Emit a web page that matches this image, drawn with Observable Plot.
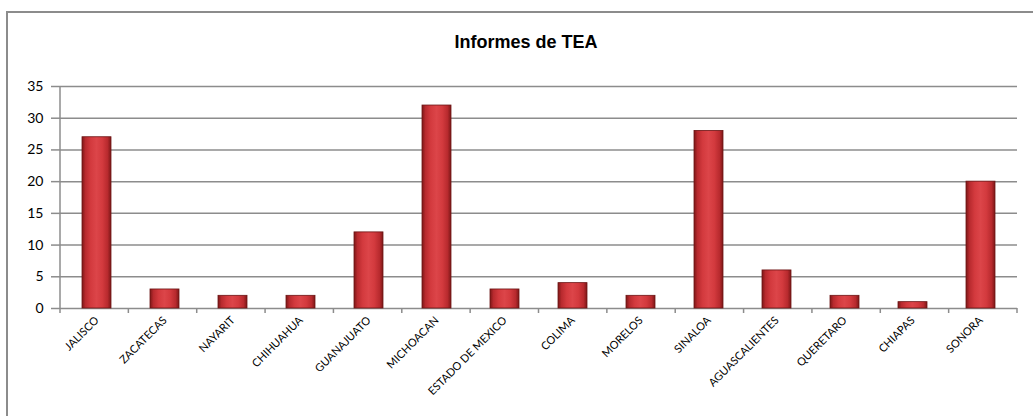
<!DOCTYPE html>
<html><head><meta charset="utf-8">
<script src="https://cdn.jsdelivr.net/npm/d3@7"></script>
<script src="https://cdn.jsdelivr.net/npm/@observablehq/plot@0.6"></script>
<style>
body{margin:0;background:#fff}
#wrap{position:relative;width:1033px;height:416px;overflow:hidden;background:#fff}
#ftop{position:absolute;left:6px;top:11px;width:1040px;height:0;border-top:2px solid #8c8c8c}
#fleft{position:absolute;left:6px;top:11px;width:0;height:420px;border-left:2px solid #8c8c8c}
#title{position:absolute;left:0;width:1052px;top:32px;text-align:center;font:bold 18px "Liberation Sans",Arial,sans-serif;color:#000}
#chart{position:absolute;left:0;top:0}
#chart svg [aria-label="y-axis tick"] path{stroke:#8c8c8c;stroke-width:1.5}
</style>
</head><body>
<div id="wrap"><div id="chart"></div><div id="ftop"></div><div id="fleft"></div><div id="title">Informes de TEA</div></div>
<script>
const states = ["JALISCO","ZACATECAS","NAYARIT","CHIHUAHUA","GUANAJUATO","MICHOACAN","ESTADO DE MEXICO","COLIMA","MORELOS","SINALOA","AGUASCALIENTES","QUERETARO","CHIAPAS","SONORA"];
const informes = [27,3,2,2,12,32,3,4,2,28,6,2,1,20];
const yTicks = [0,5,10,15,20,25,30,35];

const data = states.map((s,i)=>({state:s, value:informes[i]}));

function frameLines(index, scales, values, dims) {
  const g = d3.create("svg:g");
  const {width, height, marginLeft, marginRight, marginTop, marginBottom} = dims;
  const x0 = marginLeft, x1 = width - marginRight, yb = height - marginBottom;
  const n = states.length, step = (x1 - x0) / n;
  g.append("line").attr("x1", x0).attr("x2", x0).attr("y1", marginTop).attr("y2", yb)
    .attr("stroke", "#8c8c8c").attr("stroke-width", 1.5);
  for (let i = 0; i <= n; i++) {
    const x = x0 + i * step;
    g.append("line").attr("x1", x).attr("x2", x).attr("y1", yb).attr("y2", yb + 5)
      .attr("stroke", "#8c8c8c").attr("stroke-width", 1.5);
  }
  return g.node();
}

const chart = Plot.plot({
  width: 1033,
  height: 416,
  marginLeft: 60,
  marginRight: 16,
  marginTop: 86,
  marginBottom: 108,
  style: {background: "transparent", color: "#000"},
  x: {domain: states, paddingInner: 0.58, paddingOuter: 0.29, label: null},
  y: {domain: [0, 35], label: null},
  marks: [
    Plot.ruleY(yTicks, {stroke: "#8c8c8c", strokeWidth: 1.5}),
    Plot.barY(data, {x: "state", y: "value", fill: "url(#barGrad)", stroke: "#6b1414", strokeWidth: 0.8}),
    frameLines,
    Plot.axisY({ticks: yTicks, tickSize: 9, tickPadding: 8, fontSize: 14, fontFamily: "Lato, 'Open Sans', sans-serif", label: null}),
    Plot.axisX({tickSize: 0, tickPadding: 10, tickRotate: -45, fontSize: 11, fontFamily: "Lato, 'Open Sans', sans-serif", label: null})
  ]
});

const svg = d3.select(chart);
const defs = svg.insert("defs", ":first-child");
const grad = defs.append("linearGradient").attr("id", "barGrad").attr("x1", "0").attr("x2", "1").attr("y1", "0").attr("y2", "0");
[["0", "#7d1717"], ["0.12", "#b82a2e"], ["0.3", "#d33a3e"], ["0.5", "#dc4549"], ["0.7", "#d33a3e"], ["0.88", "#b82a2e"], ["1", "#7d1717"]]
  .forEach(([o, c]) => grad.append("stop").attr("offset", o).attr("stop-color", c));

document.getElementById("chart").appendChild(chart);
</script>
</body></html>
